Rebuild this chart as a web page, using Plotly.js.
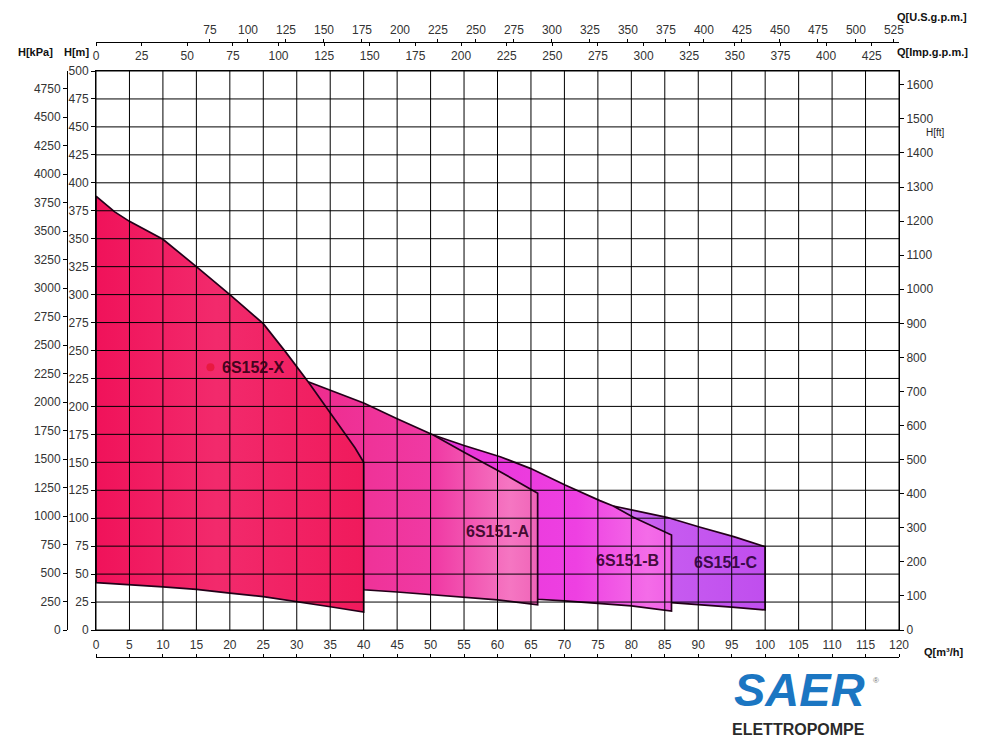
<!DOCTYPE html>
<html>
<head>
<meta charset="utf-8">
<script src="https://cdn.plot.ly/plotly-3.0.1.min.js"></script>
<style>html,body{margin:0;padding:0;background:#fff;}#chart{width:986px;height:739px;}</style>
</head>
<body>
<div id="chart"></div>
<script>
// ---- data ----
const pumpNames = ["6S151-C", "6S151-B", "6S151-A", "6S152-X"];

// 6S152-X
const xUpperQ = [0, 2.8, 5, 10, 15, 20, 25, 28.3, 31.7, 35, 38.7, 40];
const xUpperH = [388, 374, 365.5, 349.5, 325, 300, 274, 249, 222, 194, 163, 150];
const xLowerQ = [0, 5, 10, 15, 20, 25, 30, 35, 40];
const xLowerH = [42.3, 40.3, 38.5, 36.4, 33, 29.8, 25, 20.8, 16];

// 6S151-A
const aUpperQ = [31.7, 35, 40, 45, 50.4, 55, 60.4, 66];
const aUpperH = [222, 214.5, 203, 189, 174.4, 159, 141.6, 122.3];
const aLowerQ = [40, 45, 50, 55, 60, 66];
const aLowerH = [36, 34, 31.5, 29.5, 27, 22.5];

// 6S151-B
const bUpperQ = [50.4, 55, 60.4, 64.9, 70.1, 72.3, 75.3, 77.3, 80.3, 86];
const bUpperH = [174.4, 165, 155, 144.6, 129.7, 123.7, 115.7, 110.9, 100.8, 85];
const bLowerQ = [66, 70, 75, 80, 86];
const bLowerH = [27.5, 26, 24, 21.5, 17];

// 6S151-C
const cUpperQ = [77.3, 80, 85.3, 90.3, 95.3, 100];
const cUpperH = [110.9, 107.5, 100.8, 91.9, 83.5, 74.5];
const cLowerQ = [86, 90, 95, 100];
const cLowerH = [24.5, 23, 20.5, 18];

// tick labels
const qTicks = [0,5,10,15,20,25,30,35,40,45,50,55,60,65,70,75,80,85,90,95,100,105,110,115,120];
const hTicks = [0,25,50,75,100,125,150,175,200,225,250,275,300,325,350,375,400,425,450,475,500];
const kpaTicks = [0,250,500,750,1000,1250,1500,1750,2000,2250,2500,2750,3000,3250,3500,3750,4000,4250,4500,4750];
const ftTicks = [0,100,200,300,400,500,600,700,800,900,1000,1100,1200,1300,1400,1500,1600];
const impTicks = [0,25,50,75,100,125,150,175,200,225,250,275,300,325,350,375,400,425];
const usTicks = [75,100,125,150,175,200,225,250,275,300,325,350,375,400,425,450,475,500,525];

// unit conversions
const Q_MAX = 120, H_MAX = 500;
const KPA_PER_M = 9.81, FT_PER_M = 3.2808;
const M3H_PER_IMPGPM = 0.2727654, M3H_PER_USGPM = 0.2271247;

function poly(uq, uh, lq, lh) {
  const x = uq.concat(lq.slice().reverse()); x.push(uq[0]);
  const y = uh.concat(lh.slice().reverse()); y.push(uh[0]);
  return {x, y};
}
const shapesData = [
  poly(cUpperQ, cUpperH, cLowerQ, cLowerH),
  poly(bUpperQ, bUpperH, bLowerQ, bLowerH),
  poly(aUpperQ, aUpperH, aLowerQ, aLowerH),
  poly(xUpperQ, xUpperH, xLowerQ, xLowerH)
];
const gradients = [
  [[0,'#D878F2'],[0.3,'#C75CF0'],[1,'#C04EEE']],
  [[0,'#E833D6'],[0.6,'#EE40E2'],[0.9,'#F46CE8'],[1,'#F060E6']],
  [[0,'#EE2C8E'],[0.55,'#F03AA4'],[0.88,'#F576C2'],[1,'#F064B8']],
  [[0,'#F0125A'],[0.45,'#F22A6C'],[1,'#F01A5C']]
];
const traces = shapesData.map((p, i) => ({
  type: 'scatter', mode: 'lines', x: p.x, y: p.y, name: pumpNames[i],
  fill: 'toself', fillcolor: gradients[i][1][1],
  fillgradient: {type: 'horizontal', colorscale: gradients[i]},
  line: {color: 'rgb(35,0,25)', width: 1.7}, hoverinfo: 'skip', showlegend: false
}));
// small red marker next to the X label
traces.push({type:'scatter', mode:'markers', x:[17.1], y:[235], marker:{color:'rgba(225,15,35,0.6)', size:8}, showlegend:false, hoverinfo:'skip'});
// invisible carrier traces so every secondary axis is drawn
[['x2','y'],['x3','y'],['x4','y'],['x','y2'],['x','y3']].forEach(([xa, ya]) => {
  traces.push({type:'scatter', mode:'markers', x:[1], y:[1], xaxis:xa, yaxis:ya, marker:{opacity:0, size:1}, showlegend:false, hoverinfo:'skip'});
});

const W = 986, Hh = 739;
const px = v => v / W, py = v => (Hh - v) / Hh;
const tickFont = {family: 'Liberation Sans, Arial, sans-serif', size: 12, color: '#333'};
const boldFont = {family: 'Liberation Sans, Arial, sans-serif', size: 11, color: '#111'};

const shapes = [];
qTicks.forEach(q => shapes.push({type:'line', layer:'above', xref:'x', yref:'y domain', x0:q, x1:q, y0:0, y1:1, line:{color:'#000', width:1}}));
hTicks.forEach(h => shapes.push({type:'line', layer:'above', xref:'x domain', yref:'y', x0:0, x1:1, y0:h, y1:h, line:{color:'#000', width:1}}));

function ann(x, y, text, font) {
  return {xref:'paper', yref:'paper', x:px(x), y:py(y), xanchor:'center', yanchor:'middle', text:text, showarrow:false, font:font};
}
function lab(q, h, text, color) {
  return {xref:'x', yref:'y', x:q, y:h, xanchor:'center', yanchor:'middle', text:'<b>'+text+'</b>', showarrow:false,
          font:{family:'Liberation Sans, Arial', size:16, color:color}};
}

const xDom = [px(96), px(899)];
const layout = {
  width: W, height: Hh, margin: {l:0, r:0, t:0, b:0},
  paper_bgcolor: '#fff', plot_bgcolor: '#fff', showlegend: false,
  xaxis: {domain: xDom, range: [0, Q_MAX], tickvals: qTicks, showticklabels: false, showgrid: false, zeroline: false,
          showline: true, mirror: true, linecolor: '#000', linewidth: 1, ticks: ''},
  yaxis: {domain: [py(630), py(71)], range: [0, H_MAX], tickvals: hTicks, showgrid: false, zeroline: false,
          showline: true, mirror: true, linecolor: '#000', linewidth: 1, ticks: 'outside', ticklen: 4, tickcolor: '#000',
          tickfont: tickFont},
  xaxis2: {overlaying: 'x', anchor: 'free', position: py(657), side: 'top', range: [0, Q_MAX], tickvals: qTicks,
           showgrid: false, zeroline: false, showline: true, linecolor: '#000', ticks: 'outside', ticklen: 3, tickcolor: '#000',
           tickfont: tickFont},
  xaxis3: {overlaying: 'x', anchor: 'free', position: py(41.5), side: 'bottom', range: [0, Q_MAX / M3H_PER_IMPGPM], tickvals: impTicks,
           showgrid: false, zeroline: false, showline: true, linecolor: '#000', ticks: 'outside', ticklen: 3, tickcolor: '#000',
           tickfont: tickFont},
  xaxis4: {overlaying: 'x', anchor: 'free', position: py(41.5), side: 'top', range: [0, Q_MAX / M3H_PER_USGPM], tickvals: usTicks,
           showgrid: false, zeroline: false, showline: false, ticks: 'outside', ticklen: 3, tickcolor: '#000',
           tickfont: tickFont},
  yaxis2: {overlaying: 'y', anchor: 'free', position: px(67), side: 'left', range: [0, H_MAX * KPA_PER_M], tickvals: kpaTicks,
           showgrid: false, zeroline: false, showline: true, linecolor: '#000', ticks: 'outside', ticklen: 4, tickcolor: '#000',
           tickfont: tickFont},
  yaxis3: {overlaying: 'y', anchor: 'x', side: 'right', range: [0, H_MAX * FT_PER_M], tickvals: ftTicks,
           showgrid: false, zeroline: false, showline: false, ticks: 'outside', ticklen: 4, tickcolor: '#000',
           tickfont: tickFont},
  shapes: shapes,
  annotations: [
    ann(35, 52, '<b>H[kPa]</b>', boldFont),
    ann(76, 52, '<b>H[m]</b>', boldFont),
    ann(932, 17, '<b>Q[U.S.g.p.m.]</b>', boldFont),
    ann(932, 52, '<b>Q[Imp.g.p.m.]</b>', boldFont),
    ann(935, 133, 'H[ft]', {family:'Liberation Sans, Arial', size:10, color:'#222'}),
    ann(943, 652, '<b>Q[m³/h]</b>', boldFont),
    lab(23.5, 235, pumpNames[3], 'rgba(45,0,20,0.9)'),
    lab(60.0, 88, pumpNames[2], 'rgba(45,0,30,0.9)'),
    lab(79.4, 62.6, pumpNames[1], 'rgba(45,0,40,0.9)'),
    lab(94.2, 60.2, pumpNames[0], 'rgba(40,0,50,0.9)'),
    ann(799, 689, '<b><i>SAER</i></b>', {family:'Liberation Sans, Arial', size:47, color:'#1B76C2'}),
    ann(876, 680, '®', {family:'Liberation Sans, Arial', size:8, color:'#777'}),
    ann(798, 729, '<b>ELETTROPOMPE</b>', {family:'Liberation Sans, Arial', size:16, color:'#2a2a2a'})
  ]
};
Plotly.newPlot('chart', traces, layout, {staticPlot: true, displayModeBar: false});
</script>
</body>
</html>
